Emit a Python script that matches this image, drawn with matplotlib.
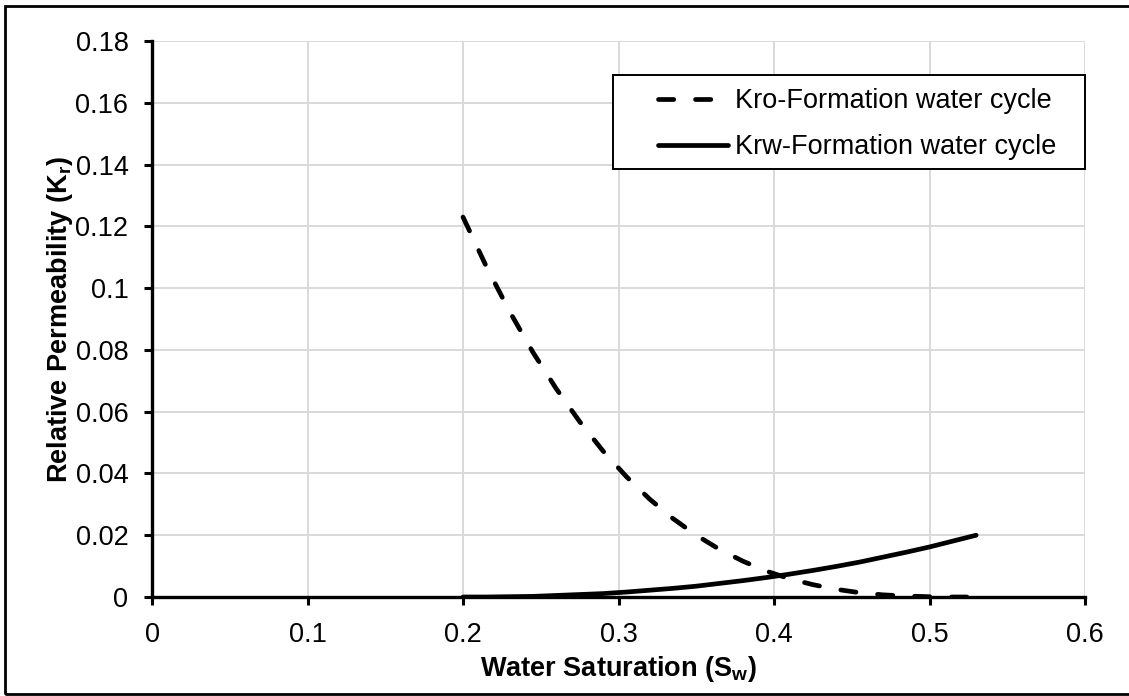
import matplotlib.pyplot as plt
from matplotlib.patches import Rectangle

# data
sw = [0.200, 0.215, 0.230, 0.245, 0.260, 0.275, 0.290, 0.305, 0.320, 0.335, 0.350, 0.365,
      0.380, 0.395, 0.410, 0.425, 0.440, 0.455, 0.470, 0.485, 0.500, 0.515, 0.530]
kro = [0.1230, 0.1070, 0.0924, 0.0792, 0.0674, 0.0568, 0.0473, 0.0390, 0.0317, 0.0254, 0.0200, 0.0154,
       0.0116, 0.0084, 0.0059, 0.0040, 0.0025, 0.0014, 0.0007, 0.0003, 0.0001, 0.0000, 0.0000]
krw = [0.0000, 0.0000, 0.0001, 0.0002, 0.0005, 0.0008, 0.0011, 0.0016, 0.0022, 0.0028, 0.0035, 0.0044,
       0.0053, 0.0063, 0.0074, 0.0086, 0.0099, 0.0113, 0.0129, 0.0145, 0.0162, 0.0181, 0.0200]

x_ticks = [0, 0.1, 0.2, 0.3, 0.4, 0.5, 0.6]
x_labels = ['0', '0.1', '0.2', '0.3', '0.4', '0.5', '0.6']
y_ticks = [0, 0.02, 0.04, 0.06, 0.08, 0.1, 0.12, 0.14, 0.16, 0.18]
y_labels = ['0', '0.02', '0.04', '0.06', '0.08', '0.1', '0.12', '0.14', '0.16', '0.18']

plt.rcParams['font.family'] = ['Liberation Sans', 'DejaVu Sans']
plt.rcParams['mathtext.fontset'] = 'custom'
plt.rcParams['mathtext.rm'] = 'Liberation Sans'
plt.rcParams['mathtext.bf'] = 'Liberation Sans:bold'

FS = 19.5
W, H = 1129, 696

fig = plt.figure(figsize=(11.29, 6.96), dpi=100)
ax = fig.add_axes([152 / W, 99 / H, (1085 - 152) / W, (597 - 41) / H])

ax.plot(sw, kro, color='black', lw=3.4, linestyle=(0, (3.24, 4.6)),
        dash_capstyle='round', label='Kro-Formation water cycle', zorder=3)
ax.plot(sw, krw, color='black', lw=3.4, solid_capstyle='round',
        label='Krw-Formation water cycle', zorder=3)

ax.set_xlim(0, 0.6)
ax.set_ylim(0, 0.18)
ax.set_xticks(x_ticks)
ax.set_xticklabels(x_labels)
ax.set_yticks(y_ticks)
ax.set_yticklabels(y_labels)
ax.tick_params(labelsize=FS, width=2.2, length=6, direction='out')
ax.tick_params(axis='y', pad=11)
ax.tick_params(axis='x', pad=12)
ax.grid(True, color='#d9d9d9', lw=1.4)
ax.set_axisbelow(True)

for s in ['top', 'right']:
    ax.spines[s].set_visible(False)
for s in ['left', 'bottom']:
    ax.spines[s].set_linewidth(2.4)
    ax.spines[s].set_zorder(4)

ax.set_xlabel('Water Saturation (S$_{\\mathbf{w}}$)', fontsize=FS, fontweight='bold', labelpad=4)
ax.set_ylabel('Relative Permeability (K$_{\\mathbf{r}}$)', fontsize=FS, fontweight='bold', labelpad=0.5)

# legend box drawn separately (Excel style wide left padding)
ax.add_patch(Rectangle((613 / W, 1 - 169 / H), (1085 - 613) / W, 94 / H, transform=fig.transFigure,
                       facecolor='white', edgecolor='black', lw=1.4, zorder=5, clip_on=False))
leg = ax.legend(loc='upper left', bbox_to_anchor=(658 / W, 1 - 88 / H), bbox_transform=fig.transFigure,
                fontsize=FS, frameon=False, handlelength=2.58, borderpad=0, borderaxespad=0,
                labelspacing=0.74, handletextpad=0.26)
leg.set_zorder(6)

# outer chart border (right edge is cropped in the reference)
fig.patches.append(Rectangle((5 / W, 2 / H), 1.1, 688 / H, transform=fig.transFigure,
                             fill=False, edgecolor='black', lw=2.0, clip_on=False))

fig.savefig('out.png', dpi=100)
